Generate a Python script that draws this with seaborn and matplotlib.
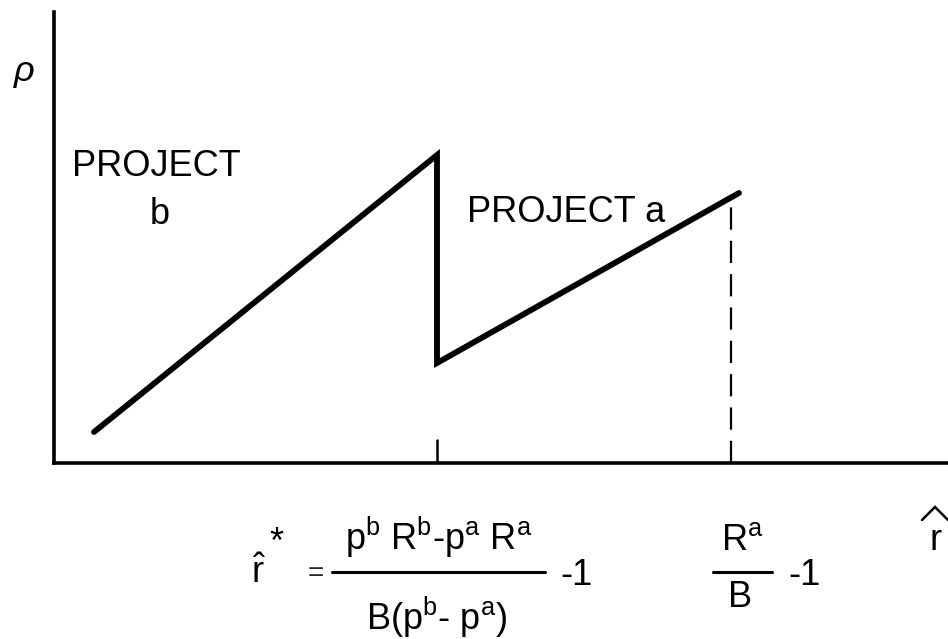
import matplotlib
matplotlib.use("Agg")
import matplotlib.pyplot as plt
import seaborn as sns
import pandas as pd

# ---- data (arbitrary units) ----
r_hat = [0.40, 3.83, 3.83, 6.85]
rho = [0.31, 3.08, 1.00, 2.70]
r_star = 3.83
r_max = 6.77
rho_at_rmax = 2.66

sns.set_style("white")
plt.rcParams["font.family"] = ["Liberation Sans", "DejaVu Sans"]
plt.rcParams["mathtext.fontset"] = "custom"
plt.rcParams["mathtext.rm"] = "Liberation Sans"
plt.rcParams["mathtext.it"] = "Liberation Sans:italic"
plt.rcParams["mathtext.bf"] = "Liberation Sans:bold"

fig = plt.figure(figsize=(9.48, 6.39), dpi=100)
ax = fig.add_axes([54 / 948, 1 - 463 / 639, 1 - 54 / 948, 451 / 639])

df = pd.DataFrame({"r": r_hat, "rho": rho})
sns.lineplot(data=df, x="r", y="rho", sort=False, estimator=None, errorbar=None,
             color="black", lw=4.2, ax=ax,
             solid_joinstyle="miter", solid_capstyle="round")

# tick at r*
ax.plot([r_star, r_star], [0, 0.23], color="black", lw=1.8)
# dashed line at R^a/B - 1
ax.plot([r_max, r_max], [0, rho_at_rmax], color="black", lw=1.6, dashes=(10, 5))

ax.set_xlim(0, 8.94)
ax.set_ylim(0, 4.51)
ax.set_xticks([])
ax.set_yticks([])
ax.set_xlabel("")
ax.set_ylabel("")
for s in ["top", "right"]:
    ax.spines[s].set_visible(False)
for s in ["left", "bottom"]:
    ax.spines[s].set_linewidth(2.6)
    ax.spines[s].set_color("black")

fs = 26
kw = dict(clip_on=False, color="black", fontsize=fs)

ax.text(-0.30, 3.91, "ρ", ha="center", va="center", style="italic", **kw)
ax.text(0.18, 2.97, "PROJECT", ha="left", va="center", **kw)
ax.text(1.06, 2.48, "b", ha="center", va="center", **kw)
ax.text(4.13, 2.51, "PROJECT a", ha="left", va="center", **kw)

# r-hat* formula
ax.text(2.05, -1.20, r"$\hat{\mathrm{r}}$", ha="center", va="baseline", **kw)
ax.text(2.22, -0.80, "*", ha="center", va="center", **kw)
ax.text(2.62, -1.11, "=", ha="center", va="center", fontsize=20, clip_on=False)
ax.text(3.85, -0.87, r"p$^{\mathrm{b}}$ R$^{\mathrm{b}}$-p$^{\mathrm{a}}$ R$^{\mathrm{a}}$",
        ha="center", va="baseline", **kw)
ax.plot([2.78, 4.91], [-1.09, -1.09], color="black", lw=2.2, clip_on=False)
ax.text(3.83, -1.67, r"B(p$^{\mathrm{b}}$- p$^{\mathrm{a}}$)", ha="center", va="baseline", **kw)
ax.text(5.06, -1.22, "-1", ha="left", va="baseline", **kw)

# R^a / B - 1
ax.text(6.88, -0.87, r"R$^{\mathrm{a}}$", ha="center", va="baseline", **kw)
ax.plot([6.59, 7.18], [-1.09, -1.09], color="black", lw=2.2, clip_on=False)
ax.text(6.86, -1.44, "B", ha="center", va="baseline", **kw)
ax.text(7.34, -1.22, "-1", ha="left", va="baseline", **kw)

# axis label r-hat (r with a wide hat)
ax.text(8.82, -0.87, "r", ha="center", va="baseline", **kw)
ax.plot([8.68, 8.81, 8.94], [-0.57, -0.44, -0.57], color="black", lw=1.8,
        clip_on=False, solid_joinstyle="miter")

fig.savefig("out.png", dpi=100, facecolor="white")
